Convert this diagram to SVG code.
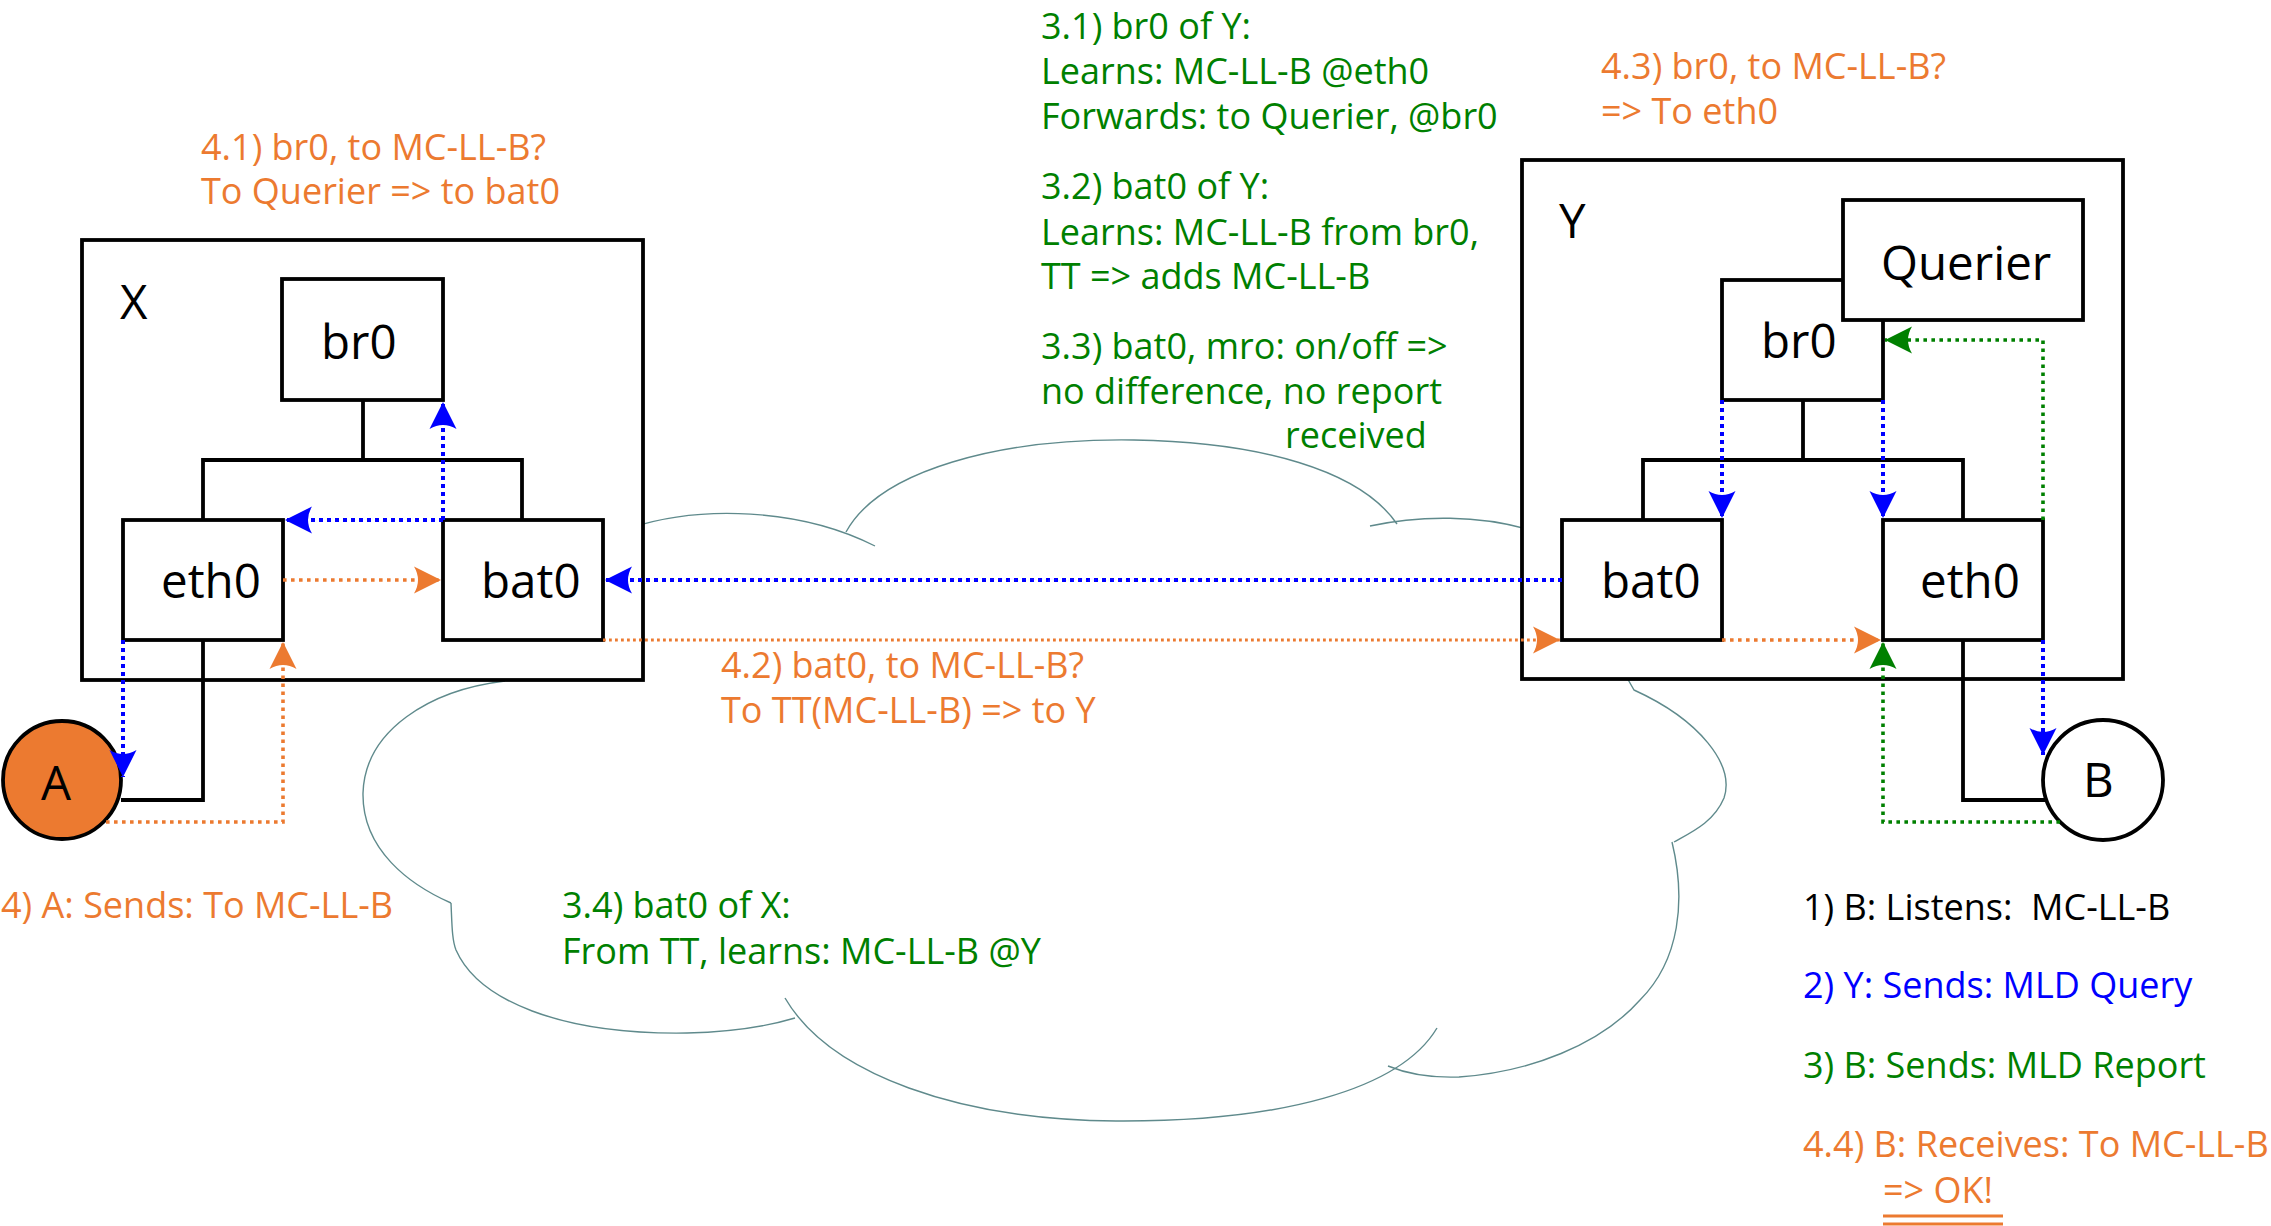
<svg xmlns="http://www.w3.org/2000/svg" width="2271" height="1226" viewBox="0 0 2271 1226">
<style>
text{font-family:"Open Sans","Noto Sans","DejaVu Sans",sans-serif}
.lbl{font-size:47.5px;fill:#000}
.note{font-size:36px}
.g{fill:#008000}.o{fill:#ec7a30}.b{fill:#0000ff}.k{fill:#000}
.box{fill:#fff;stroke:#000;stroke-width:3.8}
.wire{fill:none;stroke:#000;stroke-width:3.8}
.cloud{fill:none;stroke:#5f8a8c;stroke-width:1.4}
.db{fill:none;stroke:#0000ff;stroke-width:4;stroke-dasharray:4 4;marker-end:url(#mb)}
.do{fill:none;stroke:#ec7a30;stroke-width:3.6;stroke-dasharray:3.6 4.4;marker-end:url(#mo)}
.dg{fill:none;stroke:#008000;stroke-width:3.6;stroke-dasharray:3.6 4.4;marker-end:url(#mg)}
.thin{stroke-width:2.8;stroke-dasharray:2.8 3.2}
</style>
<defs>
<marker id="mb" viewBox="-30 -16 32 32" markerWidth="32" markerHeight="32" refX="0" refY="0" orient="auto" markerUnits="userSpaceOnUse"><path d="M0,0 L-27,-13.5 Q-19,0 -27,13.5 Z" fill="#0000ff"/></marker>
<marker id="mo" viewBox="-30 -16 32 32" markerWidth="32" markerHeight="32" refX="0" refY="0" orient="auto" markerUnits="userSpaceOnUse"><path d="M0,0 L-27,-13.5 Q-19,0 -27,13.5 Z" fill="#ec7a30"/></marker>
<marker id="mg" viewBox="-30 -16 32 32" markerWidth="32" markerHeight="32" refX="0" refY="0" orient="auto" markerUnits="userSpaceOnUse"><path d="M0,0 L-27,-13.5 Q-19,0 -27,13.5 Z" fill="#008000"/></marker>
</defs>
<rect width="2271" height="1226" fill="#fff"/>

<g id="cloud" class="cloud">
<path d="M630,528 C700,505 800,508 875,546"/>
<path d="M846,532 C880,470 1000,438 1134,440 C1260,442 1360,470 1397,524"/>
<path d="M1370,526 C1420,515 1480,515 1530,530"/>
<path d="M1626,676 L1634,690 C1700,720 1735,765 1724,798 C1714,822 1692,832 1674,842"/>
<path d="M1672,842 C1686,900 1680,960 1640,1000 C1600,1045 1530,1072 1459,1077 C1430,1078 1405,1073 1388,1066"/>
<path d="M1437,1028 C1400,1090 1280,1122 1116,1121 C960,1120 830,1075 785,998"/>
<path d="M451,903 C452,925 452,940 456,950 C478,1000 560,1035 687,1033 C730,1032 765,1027 795,1018"/>
<path d="M505,681 C430,690 365,730 363,793 C362,850 410,885 451,903"/>
</g>

<g id="node-X">
<rect class="box" x="82" y="240" width="561" height="440"/>
<text class="lbl" x="120" y="319">X</text>
</g>
<g id="node-Y">
<rect class="box" x="1522" y="160" width="601" height="519"/>
<text class="lbl" x="1559" y="238">Y</text>
</g>
<g id="node-X-br0">
<rect class="box" x="282" y="279" width="161" height="121"/>
<text class="lbl" x="321" y="359">br0</text>
</g>
<g id="node-X-eth0">
<rect class="box" x="123" y="520" width="160" height="120"/>
<text class="lbl" x="161" y="598">eth0</text>
</g>
<g id="node-X-bat0">
<rect class="box" x="443" y="520" width="160" height="120"/>
<text class="lbl" x="481" y="598">bat0</text>
</g>
<g id="node-Y-br0">
<rect class="box" x="1722" y="280" width="161" height="120"/>
<text class="lbl" x="1761" y="358">br0</text>
</g>
<g id="node-Y-querier">
<rect class="box" x="1843" y="200" width="240" height="120"/>
<text class="lbl" x="1881" y="280">Querier</text>
</g>
<g id="node-Y-bat0">
<rect class="box" x="1562" y="520" width="160" height="120"/>
<text class="lbl" x="1601" y="598">bat0</text>
</g>
<g id="node-Y-eth0">
<rect class="box" x="1883" y="520" width="160" height="120"/>
<text class="lbl" x="1920" y="598">eth0</text>
</g>
<g id="node-A">
<circle cx="62" cy="780" r="59" fill="#ec7a30" stroke="#000" stroke-width="3.8"/>
<text class="lbl" x="41" y="800">A</text>
</g>
<g id="node-B">
<circle cx="2103" cy="780" r="60" fill="#fff" stroke="#000" stroke-width="3.8"/>
<text class="lbl" x="2083" y="797">B</text>
</g>

<g id="connectors">
<path class="wire" d="M363,400 V460 M203,520 V460 H522 V520 M203,640 V800 H121"/>
<path class="wire" d="M1803,400 V460 M1643,520 V460 H1963 V520 M1963,640 V800 H2045"/>
<path class="db" d="M443,520 V402"/>
<path class="db" d="M443,520 H285"/>
<path class="do" d="M283,580 H441"/>
<path class="db" d="M1562,580 H605"/>
<path class="do thin" d="M603,640 H1560"/>
<path class="db" d="M123,640 V777"/>
<path class="do" d="M106,822 H283 V642"/>
<path class="db" d="M1722,400 V518"/>
<path class="db" d="M1883,400 V518"/>
<path class="do" d="M1722,640 H1881"/>
<path class="dg" d="M2043,520 V340 H1885"/>
<path class="dg" d="M2060,822 H1883 V642"/>
<path class="db" d="M2043,640 V755"/>
</g>

<g id="labels" class="note">
<text class="o" x="201" y="160">4.1) br0, to MC-LL-B?<tspan x="201" y="204">To Querier =&gt; to bat0</tspan></text>
<text class="g" x="1041" y="39">3.1) br0 of Y:<tspan x="1041" y="84">Learns: MC-LL-B @eth0</tspan><tspan x="1041" y="129">Forwards: to Querier, @br0</tspan></text>
<text class="g" x="1041" y="199">3.2) bat0 of Y:<tspan x="1041" y="245">Learns: MC-LL-B from br0,</tspan><tspan x="1041" y="289">TT =&gt; adds MC-LL-B</tspan></text>
<text class="g" x="1041" y="359">3.3) bat0, mro: on/off =&gt;<tspan x="1041" y="404">no difference, no report</tspan><tspan x="1285" y="448">received</tspan></text>
<text class="o" x="1601" y="79">4.3) br0, to MC-LL-B?<tspan x="1601" y="124">=&gt; To eth0</tspan></text>
<text class="o" x="721" y="678">4.2) bat0, to MC-LL-B?<tspan x="721" y="723">To TT(MC-LL-B) =&gt; to Y</tspan></text>
<text class="g" x="562" y="918">3.4) bat0 of X:<tspan x="562" y="964">From TT, learns: MC-LL-B @Y</tspan></text>
<text class="o" x="1" y="918">4) A: Sends: To MC-LL-B</text>
<text class="k" x="1803" y="920" xml:space="preserve">1) B: Listens:  MC-LL-B</text>
<text class="b" x="1803" y="998">2) Y: Sends: MLD Query</text>
<text class="g" x="1803" y="1078">3) B: Sends: MLD Report</text>
<text class="o" x="1803" y="1157">4.4) B: Receives: To MC-LL-B<tspan x="1883" y="1203">=&gt; OK!</tspan></text>
<path d="M1883,1216 H2003 M1883,1224 H2003" stroke="#ec7a30" stroke-width="3" fill="none"/>
</g>
</svg>
